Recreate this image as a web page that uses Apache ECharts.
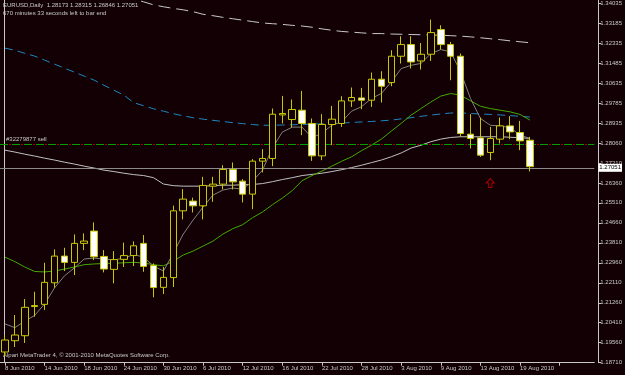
<!DOCTYPE html>
<html><head><meta charset="utf-8">
<script src="https://cdn.jsdelivr.net/npm/echarts@6/dist/echarts.min.js"></script>
<style>html,body{margin:0;padding:0;background:#120004}#c{width:625px;height:375px}</style>
</head><body><div id="c"></div>
<script>
const dates = ['8 Jun 2010','9 Jun 2010','10 Jun 2010','11 Jun 2010','14 Jun 2010','15 Jun 2010','16 Jun 2010','17 Jun 2010','18 Jun 2010','21 Jun 2010','22 Jun 2010','23 Jun 2010','24 Jun 2010','25 Jun 2010','28 Jun 2010','29 Jun 2010','30 Jun 2010',
'1 Jul 2010','2 Jul 2010','5 Jul 2010','6 Jul 2010','7 Jul 2010','8 Jul 2010','9 Jul 2010','12 Jul 2010','13 Jul 2010','14 Jul 2010','15 Jul 2010','16 Jul 2010','19 Jul 2010','20 Jul 2010','21 Jul 2010','22 Jul 2010','23 Jul 2010','26 Jul 2010','27 Jul 2010','28 Jul 2010','29 Jul 2010','30 Jul 2010',
'2 Aug 2010','3 Aug 2010','4 Aug 2010','5 Aug 2010','6 Aug 2010','9 Aug 2010','10 Aug 2010','11 Aug 2010','12 Aug 2010','13 Aug 2010','16 Aug 2010','17 Aug 2010','18 Aug 2010','19 Aug 2010','20 Aug 2010'];
const opens  = [1.19165,1.19645,1.19858,1.21099,1.21192,1.22110,1.23245,1.22977,1.23785,1.24308,1.23230,1.22680,1.23105,1.23266,1.23785,1.22841,1.21915,1.22331,1.25170,1.25583,1.25383,1.26220,1.26305,1.26930,1.26433,1.25880,1.27283,1.27397,1.29250,1.29055,1.29450,1.28885,1.27508,1.28842,1.28885,1.29845,1.29973,1.29875,1.30768,1.30627,1.31745,1.32242,1.31545,1.31830,1.32880,1.32242,1.31745,1.28430,1.28273,1.27652,1.28218,1.28783,1.28502,1.28173];
const closes = [1.19675,1.19888,1.21065,1.21141,1.22127,1.23245,1.22977,1.23785,1.23883,1.23215,1.22693,1.23096,1.23266,1.23683,1.22807,1.21906,1.22340,1.25170,1.25668,1.25383,1.26250,1.26305,1.26930,1.26403,1.25880,1.27283,1.27397,1.29280,1.29310,1.29480,1.28885,1.27508,1.28842,1.29068,1.29845,1.29990,1.29875,1.30768,1.30470,1.31745,1.32242,1.31503,1.31830,1.32752,1.32242,1.31745,1.28460,1.28247,1.27538,1.28247,1.28783,1.28528,1.28145,1.27051];
const lows   = [1.18995,1.19378,1.19548,1.20665,1.20950,1.21898,1.22608,1.22438,1.23500,1.23075,1.22552,1.22085,1.22778,1.22820,1.22578,1.21490,1.21630,1.21928,1.24805,1.25102,1.24805,1.25553,1.26080,1.26080,1.25527,1.25243,1.26802,1.27070,1.28885,1.28715,1.28388,1.27295,1.27325,1.27963,1.28740,1.29590,1.29493,1.29590,1.29777,1.30470,1.31435,1.31222,1.31180,1.31545,1.32030,1.30725,1.28315,1.27822,1.27465,1.27325,1.28035,1.28218,1.27750,1.26846];
const highs  = [1.19888,1.20738,1.21418,1.21728,1.22960,1.23530,1.23598,1.24167,1.24210,1.24677,1.23500,1.23458,1.23819,1.23870,1.24138,1.22935,1.22778,1.25391,1.26093,1.25731,1.26615,1.26615,1.27113,1.27227,1.26518,1.27368,1.27793,1.29522,1.30058,1.29905,1.30270,1.29097,1.29280,1.29633,1.30045,1.30415,1.30398,1.31052,1.31108,1.32000,1.32595,1.32595,1.32310,1.33305,1.33063,1.32353,1.31860,1.29280,1.29140,1.28740,1.29140,1.29195,1.28995,1.28315];
const maFast   = [1.2036,1.2020,1.2048,1.2072,1.2121,1.2189,1.2240,1.2274,1.2312,1.2316,1.2312,1.2308,1.2316,1.2331,1.2320,1.2282,1.2261,1.2337,1.2418,1.2478,1.2533,1.2584,1.2605,1.2614,1.2609,1.2643,1.2690,1.2784,1.2852,1.2873,1.2873,1.2828,1.2847,1.2881,1.2896,1.2941,1.2960,1.2995,1.3016,1.3065,1.3122,1.3136,1.3144,1.3186,1.3203,1.3193,1.3108,1.2995,1.2910,1.2881,1.2878,1.2871,1.2839,1.2825];
const maGreen  = [1.2320,1.2301,1.2278,1.2259,1.2257,1.2261,1.2269,1.2278,1.2288,1.2291,1.2293,1.2294,1.2296,1.2298,1.2295,1.2288,1.2283,1.2303,1.2329,1.2346,1.2367,1.2388,1.2418,1.2441,1.2458,1.2488,1.2512,1.2543,1.2571,1.2603,1.2645,1.2667,1.2686,1.2707,1.2728,1.2747,1.2773,1.2796,1.2822,1.2856,1.2889,1.2924,1.2952,1.2980,1.3005,1.3016,1.3009,1.2985,1.2962,1.2952,1.2945,1.2938,1.2927,1.2903];
const maSilver = [1.2775,1.2767,1.2758,1.2750,1.2741,1.2733,1.2724,1.2716,1.2707,1.2699,1.2690,1.2684,1.2677,1.2671,1.2667,1.2658,1.2631,1.2624,1.2622,1.2622,1.2622,1.2624,1.2626,1.2626,1.2628,1.2629,1.2633,1.2641,1.2650,1.2658,1.2667,1.2672,1.2677,1.2684,1.2692,1.2701,1.2711,1.2722,1.2733,1.2747,1.2763,1.2784,1.2796,1.2811,1.2822,1.2829,1.2832,1.2832,1.2832,1.2832,1.2832,1.2830,1.2828,1.2825];
const maBlue   = [1.3209,1.3200,1.3187,1.3175,1.3158,1.3141,1.3124,1.3107,1.3090,1.3073,1.3051,1.3030,1.3009,1.2977,1.2964,1.2951,1.2941,1.2930,1.2921,1.2913,1.2907,1.2902,1.2897,1.2892,1.2888,1.2884,1.2881,1.2881,1.2882,1.2883,1.2884,1.2886,1.2887,1.2888,1.2890,1.2893,1.2895,1.2897,1.2900,1.2903,1.2908,1.2913,1.2919,1.2924,1.2929,1.2933,1.2934,1.2931,1.2929,1.2927,1.2925,1.2922,1.2919,1.2916];
const maWhite  = [null,null,null,null,null,null,null,null,null,null,null,null,1.3430,1.3417,1.3406,1.3393,1.3385,1.3378,1.3372,1.3364,1.3353,1.3347,1.3340,1.3334,1.3328,1.3322,1.3316,1.3313,1.3310,1.3306,1.3303,1.3298,1.3291,1.3285,1.3280,1.3277,1.3274,1.3271,1.3271,1.3269,1.3268,1.3267,1.3266,1.3265,1.3264,1.3262,1.3260,1.3257,1.3253,1.3249,1.3245,1.3240,1.3236,1.3232];
const yTickLabels = ['1.18710','1.19560','1.20410','1.21260','1.22110','1.22960','1.23810','1.24660','1.25510','1.26360','1.27210','1.28060','1.28935','1.29785','1.30635','1.31485','1.32335','1.33185','1.34035'];
const yMin = 1.18710, yMax = 1.34125, yStep = 0.0085;
const bidPrice = 1.27051;
const orderPrice = 1.28060;
const orderLabel = '#32279877 sell';
const arrowBar = 49, arrowPrice = 1.2635;
const titleText = 'EURUSD,Daily  1.28173 1.28315 1.26846 1.27051';
const subText = '670 minutes 33 seconds left to bar end';
const footText = 'Alpari MetaTrader 4, \u00a9 2001-2010 MetaQuotes Software Corp.';
const emptyBars = 6;

const BG = '#120004';
const TXT = '#c8c8c8';
const FONT = 'Liberation Sans';
const cats = dates.concat(new Array(emptyBars).fill(''));
const candles = opens.map((o, i) => [o, closes[i], lows[i], highs[i]]);

const chart = echarts.init(document.getElementById('c'), null, {renderer: 'canvas'});
function lineSeries(name, data, color, type, z) {
  return {name, type: 'line', data, symbol: 'none', showSymbol: false, animation: false, z: z || 2,
    lineStyle: {color, width: 1, type: type || 'solid'}, emphasis: {disabled: true}};
}
chart.setOption({
  backgroundColor: BG,
  animation: false,
  textStyle: {fontFamily: FONT},
  grid: {left: -3, right: 28, top: 0, bottom: 12.3, containLabel: false},
  xAxis: {
    type: 'category', data: cats, boundaryGap: true,
    axisLine: {lineStyle: {color: TXT, width: 1}},
    axisTick: {show: true, alignWithLabel: true, interval: 3, length: 3, lineStyle: {color: TXT}},
    axisLabel: {interval: 3, fontSize: 6, color: TXT, align: 'left', margin: 3, fontFamily: FONT}
  },
  yAxis: [{
    type: 'value', position: 'right', offset: 4, min: yMin, max: yMax, interval: yStep,
    splitLine: {show: false},
    axisLine: {show: true, lineStyle: {color: TXT, width: 1}},
    axisTick: {show: true, length: 3, lineStyle: {color: TXT}},
    axisLabel: {fontSize: 6, color: TXT, margin: 2, fontFamily: FONT, showMaxLabel: false,
      formatter: v => {
        const k = Math.round((v - yMin) / yStep);
        if (Math.abs(v - (yMin + k * yStep)) > 1e-5) return '';
        return yTickLabels[k] || '';
      }}
  }, {
    type: 'value', position: 'left', offset: -4, min: yMin, max: yMax,
    splitLine: {show: false}, axisTick: {show: false}, axisLabel: {show: false},
    axisLine: {show: true, lineStyle: {color: TXT, width: 1}}
  }],
  graphic: [
    {type: 'text', left: 3, top: 2, style: {text: titleText, fill: TXT, font: '6px "Liberation Sans"'}},
    {type: 'text', left: 3, top: 10, style: {text: subText, fill: TXT, font: '6px "Liberation Sans"'}},
    {type: 'text', left: 3, top: 352, style: {text: footText, fill: TXT, font: '6px "Liberation Sans"'}}
  ],
  series: [
    lineSeries('MA200', maWhite, '#c8c8c8', [12, 6]),
    lineSeries('MA100', maBlue, '#1f86c0', [8, 5]),
    lineSeries('MA50', maSilver, '#c0c0c0'),
    lineSeries('MA20', maGreen, '#44aa00'),
    lineSeries('MA5', maFast, '#808080'),
    {
      name: 'levels', type: 'line', data: [], symbol: 'none', silent: true, z: 1,
      markLine: {
        silent: true, symbol: 'none', animation: false,
        data: [
          {yAxis: bidPrice, lineStyle: {color: '#8a8a8a', width: 1, type: 'solid'},
            label: {show: true, position: 'end', distance: 4, formatter: '1.27051', color: '#000', backgroundColor: '#ffffff',
              fontSize: 6, padding: [1, 1, 1, 1], fontFamily: FONT}},
          {yAxis: orderPrice, lineStyle: {color: '#00a000', width: 1, type: [8, 4]},
            label: {show: true, position: 'insideStartTop', formatter: orderLabel, color: TXT, fontSize: 6, distance: [6, 2], fontFamily: FONT}},
          {yAxis: orderPrice, lineStyle: {color: '#b00000', width: 1, type: [2, 10], dashOffset: 3},
            label: {show: false}}
        ]
      }
    },
    {
      name: 'EURUSD', type: 'candlestick', data: candles, barWidth: 7, z: 5,
      itemStyle: {color: BG, color0: '#ffffff', borderColor: '#c8c800', borderColor0: '#c8c800', borderWidth: 1},
      emphasis: {disabled: true}
    },
    {
      name: 'arrow', type: 'scatter', data: [[arrowBar, arrowPrice]], z: 6,
      symbol: 'path://M5,0 L10,5 L7,5 L7,10 L3,10 L3,5 L0,5 Z', symbolSize: [8, 9],
      itemStyle: {color: 'rgba(0,0,0,0)', borderColor: '#d00000', borderWidth: 1}
    }
  ]
});
</script></body></html>
